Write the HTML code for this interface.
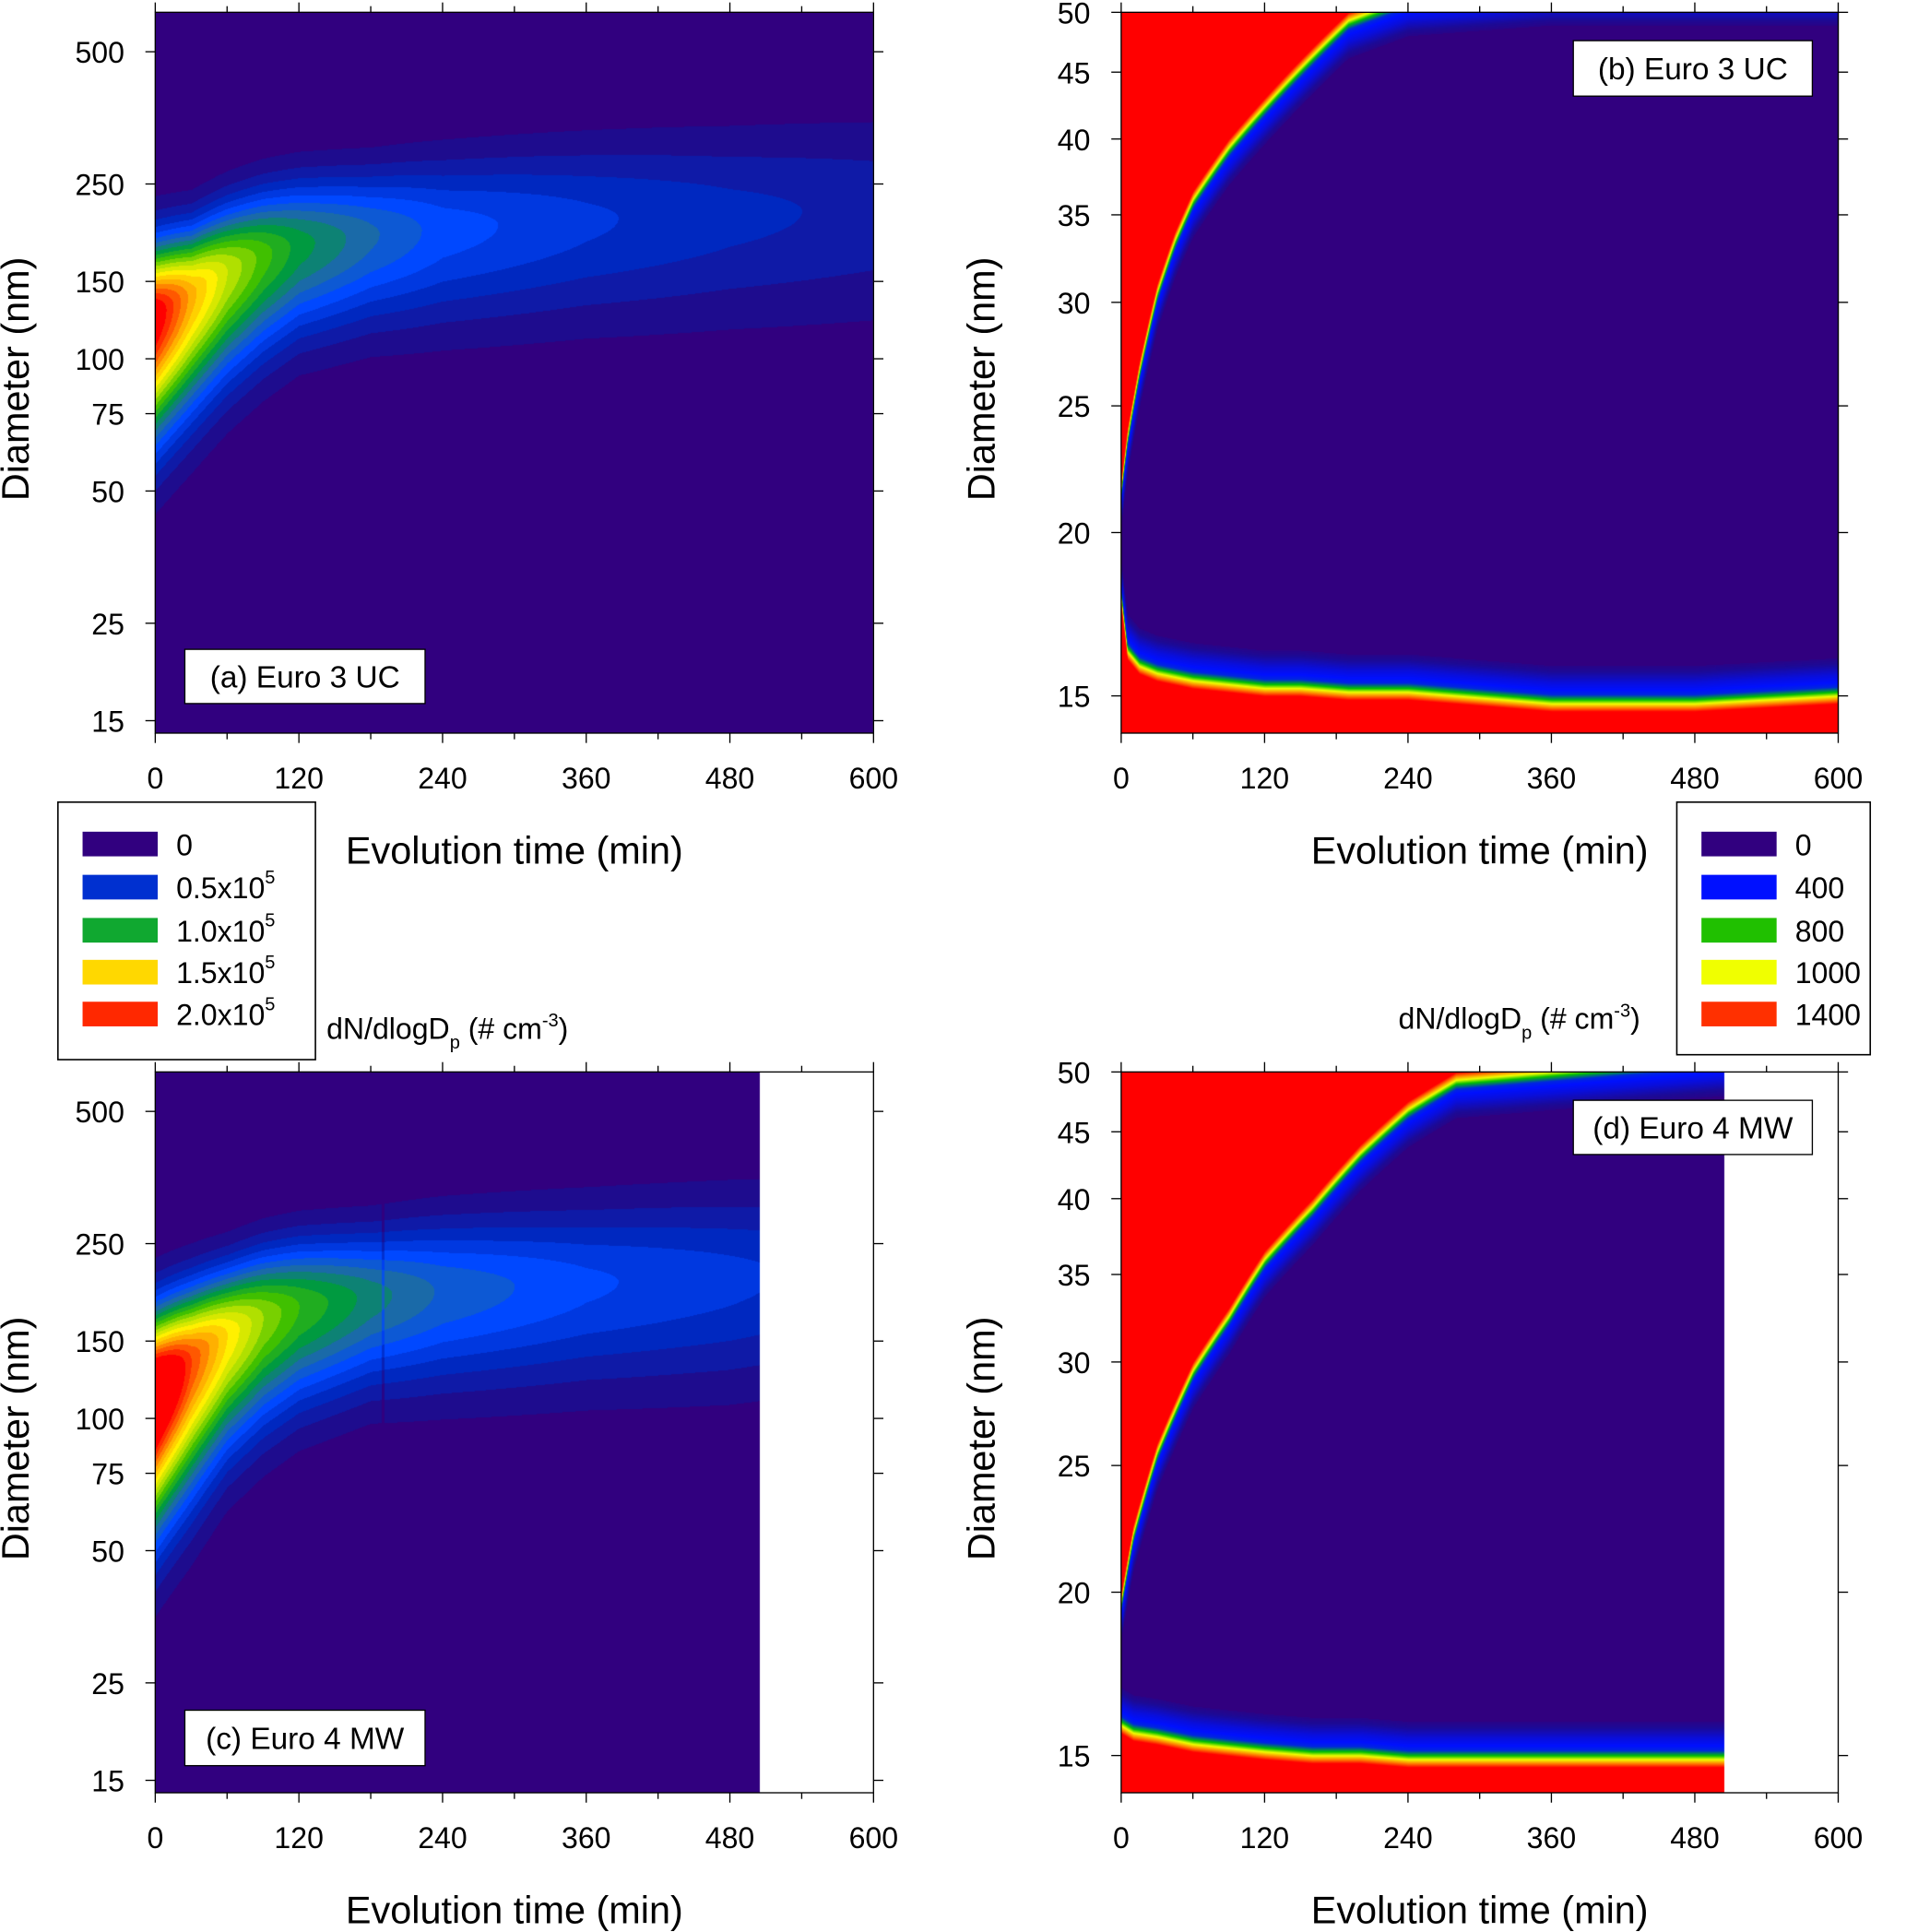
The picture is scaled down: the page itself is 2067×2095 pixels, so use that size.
<!DOCTYPE html>
<html><head><meta charset="utf-8">
<style>
html,body{margin:0;padding:0;background:#fff;}
#wrap{position:relative;width:2067px;height:2095px;overflow:hidden;}
canvas,svg{position:absolute;left:0;top:0;}
text{font-family:"Liberation Sans",Arial,sans-serif;fill:#000;}
</style></head>
<body>
<div id="wrap">
<canvas id="cv" width="2067" height="2095"></canvas>
<svg id="sv" width="2067" height="2095" viewBox="0 0 1547 1568"></svg>
</div>
<script>
// ---------- data ----------
const timesA = [0, 30, 60, 90, 120, 180, 240, 360, 480, 600];
const modeA  = [125, 140, 158, 172, 182, 192, 198, 208, 214, 220];
const peakA  = [2.25e5, 1.75e5, 1.4e5, 1.15e5, 0.95e5, 0.72e5, 0.55e5, 0.42e5, 0.33e5, 0.27e5];
const sigUpA = [0.11, 0.1, 0.1, 0.1, 0.1, 0.1, 0.11, 0.12, 0.13, 0.14];
const sigLoA = [0.18, 0.17, 0.16, 0.15, 0.14, 0.14, 0.15, 0.16, 0.17, 0.18];
const timesC = [0, 30, 60, 90, 120, 180, 240, 360, 480, 505];
const modeC  = [115, 135, 155, 170, 180, 190, 196, 204, 210, 212];
const peakC  = [2.6e5, 2.0e5, 1.6e5, 1.3e5, 1.1e5, 0.85e5, 0.68e5, 0.52e5, 0.43e5, 0.41e5];
const sigUpC = [0.12, 0.11, 0.1, 0.1, 0.1, 0.1, 0.11, 0.12, 0.13, 0.13];
const sigLoC = [0.2, 0.19, 0.17, 0.16, 0.15, 0.14, 0.15, 0.16, 0.17, 0.17];
const timesB  = [0, 5, 15, 30, 45, 60, 90, 120, 150, 190, 240, 360, 480, 600];
const upperB  = [22, 24, 27, 31, 34, 36.5, 40, 43, 46, 50, 52, 53, 53, 53];
const lowerB  = [17.5, 16, 15.6, 15.4, 15.3, 15.2, 15.1, 15.0, 15.0, 14.9, 14.9, 14.6, 14.6, 14.8];
const timesD  = [0, 10, 30, 60, 90, 120, 160, 200, 240, 280, 505];
const upperD  = [20, 22.5, 26, 30, 33, 36.5, 40, 44, 47.5, 50, 52];
const lowerD  = [15.6, 15.4, 15.3, 15.1, 15.0, 14.9, 14.8, 14.8, 14.7, 14.7, 14.7];
const xTicks = [0, 120, 240, 360, 480, 600];
const yTicksA = [15, 25, 50, 75, 100, 150, 250, 500];
const yTicksB = [15, 20, 25, 30, 35, 40, 45, 50];
const legA = ["0", "0.5x10", "1.0x10", "1.5x10", "2.0x10"];
const legB = ["0", "400", "800", "1000", "1400"];

function interp(xs, ys, t){
  if(t<=xs[0]) return ys[0];
  for(let i=1;i<xs.length;i++){ if(t<=xs[i]){const f=(t-xs[i-1])/(xs[i]-xs[i-1]);return ys[i-1]+f*(ys[i]-ys[i-1]);} }
  return ys[ys.length-1];
}
function hex(c){return [parseInt(c.substr(1,2),16),parseInt(c.substr(3,2),16),parseInt(c.substr(5,2),16)];}
function colorRamp(stops, v){
  if(v<=stops[0][0]) return hex(stops[0][1]);
  for(let i=1;i<stops.length;i++){ if(v<=stops[i][0]){const a=hex(stops[i-1][1]),b=hex(stops[i][1]);const f=(v-stops[i-1][0])/(stops[i][0]-stops[i-1][0]);return [0,1,2].map(k=>Math.round(a[k]+f*(b[k]-a[k])));} }
  return hex(stops[stops.length-1][1]);
}
const stopsA=[[0,'#31007f'],[0.1,'#1e0c8e'],[0.3,'#0028c0'],[0.5,'#0048ff'],[0.7,'#1a6aa8'],[0.9,'#009a40'],[1.1,'#40c000'],[1.3,'#b0e000'],[1.5,'#fff000'],[1.7,'#ffb000'],[1.9,'#ff5800'],[2.1,'#ff0000']];
const stopsB=[[0,'#31007f'],[150,'#1c0a96'],[400,'#0010ff'],[800,'#00c000'],[1000,'#f0ff00'],[1200,'#ff8000'],[1400,'#ff0000']];
// edge transition profile (decades from boundary -> value)
const edgeDist=[0,0.003,0.006,0.009,0.013,0.022,0.035];
const edgeVal =[1400,1200,1000,800,450,320,60];

const S=2067/1547;
const P={a:{x0:126,x1:709,y0:10,y1:595},b:{x0:910,x1:1492,y0:10,y1:595},c:{x0:126,x1:709,y0:870,y1:1455},d:{x0:910,x1:1492,y0:870,y1:1455}};
function yLogA(p,v){return p.y0+32+(Math.log10(500)-Math.log10(v))*356.5;}
function yLogB(p,v){return p.y0+(Math.log10(50)-Math.log10(v))*1061;}
function invA(p,y){return Math.pow(10,Math.log10(500)-(y-p.y0-32)/356.5);}
function invB(p,y){return Math.pow(10,Math.log10(50)-(y-p.y0)/1061);}
function xS(p,t){return p.x0+(t/600)*(p.x1-p.x0);}

const cv=document.getElementById('cv');const ctx=cv.getContext('2d');
const img=ctx.createImageData(2067,2095);const D=img.data;
function paint(p,tmax,fn){
  const X0=Math.round(p.x0*S),X1=Math.round(xS(p,tmax)*S),Y0=Math.round(p.y0*S),Y1=Math.round(p.y1*S);
  for(let X=X0;X<X1;X++){
    const t=((X/S)-p.x0)/(p.x1-p.x0)*600;
    for(let Y=Y0;Y<Y1;Y++){
      const c=fn(t,Y/S);const i=(Y*2067+X)*4;D[i]=c[0];D[i+1]=c[1];D[i+2]=c[2];D[i+3]=255;
    }
  }
}
function gaussFn(p,ts,md,pk,su,sl,line){
  return (t,y)=>{
    const dd=invA(p,y);const m=interp(ts,md,t),k=interp(ts,pk,t);
    const g=Math.log10(dd)-Math.log10(m);
    const s=g>0?interp(ts,su,t):interp(ts,sl,t);
    const z=g/s;
    let v=k*Math.exp(-0.5*z*z)/1e5;
    let lvl=Math.floor(v*10)/10;
    if(line && Math.abs(t-line)<1.2 && dd>65 && dd<420) lvl=Math.max(0,lvl-0.15);
    return colorRamp(stopsA,lvl);
  };
}
function edgeFn(p,ts,up,lo){
  return (t,y)=>{
    const dd=invB(p,y);const u=Math.log10(interp(ts,up,t)),l=Math.log10(interp(ts,lo,t));const g=Math.log10(dd);
    const dist=Math.min(u-g,g-l);
    let v;
    if(dist<=0) v=1400; else if(dist>=0.035) v=0; else v=interp(edgeDist,edgeVal,dist);
    return colorRamp(stopsB,v);
  };
}
paint(P.a,600,gaussFn(P.a,timesA,modeA,peakA,sigUpA,sigLoA,0));
paint(P.b,600,edgeFn(P.b,timesB,upperB,lowerB));
paint(P.c,505,gaussFn(P.c,timesC,modeC,peakC,sigUpC,sigLoC,190));
paint(P.d,505,edgeFn(P.d,timesD,upperD,lowerD));
ctx.putImageData(img,0,0);

const sv=document.getElementById('sv');const NS='http://www.w3.org/2000/svg';
function el(tag,attrs,txt){const e=document.createElementNS(NS,tag);for(const k in attrs)e.setAttribute(k,attrs[k]);if(txt!==undefined)e.textContent=txt;sv.appendChild(e);return e;}
function axes(key,p,ticks,yf){
  const fr=el('rect',{x:p.x0,y:p.y0,width:p.x1-p.x0,height:p.y1-p.y0,fill:'none',stroke:'#000','stroke-width':1});
  
  
  for(let t=0;t<=600;t+=60){
    const x=xS(p,t);const major=t%120===0;const L=major?8:5;
    el('line',{x1:x,x2:x,y1:p.y1,y2:p.y1+L,stroke:'#000'});
    el('line',{x1:x,x2:x,y1:p.y0,y2:p.y0-L,stroke:'#000'});
  }
  xTicks.forEach(t=>{
    const tx=el('text',{x:xS(p,t),y:p.y1+45,'font-size':24,'text-anchor':'middle'},String(t));
    
    
  });
  ticks.forEach(v=>{
    const y=yf(p,v);
    el('line',{x1:p.x0-8,x2:p.x0,y1:y,y2:y,stroke:'#000'});
    el('line',{x1:p.x1,x2:p.x1+8,y1:y,y2:y,stroke:'#000'});
    const tx=el('text',{x:p.x0-25,y:y+9,'font-size':24,'text-anchor':'end'},String(v));
    
    
  });
  const xt=el('text',{x:(p.x0+p.x1)/2,y:p.y1+106,'font-size':31,'text-anchor':'middle'},'Evolution time (min)');
  
  
  const cy=(p.y0+p.y1)/2+5;const yx=p.x0-103;
  const yt=el('text',{x:yx,y:cy,'font-size':31,'text-anchor':'middle',transform:'rotate(-90 '+yx+' '+cy+')'},'Diameter (nm)');
  
  
}
axes('a',P.a,yTicksA,yLogA);axes('b',P.b,yTicksB,yLogB);axes('c',P.c,yTicksA,yLogA);axes('d',P.d,yTicksB,yLogB);
function panelLabel(name,x,y,w,h,txt){
  const r=el('rect',{x:x,y:y,width:w,height:h,fill:'#fff',stroke:'#000','stroke-width':1});
  
  
  el('text',{x:x+w/2,y:y+h/2+9,'font-size':25,'text-anchor':'middle'},txt);
}
panelLabel('panel-label-a',150,527,195,44,'(a) Euro 3 UC');
panelLabel('panel-label-b',1277,33,194,45,'(b) Euro 3 UC');
panelLabel('panel-label-c',150,1388,195,45,'(c) Euro 4 MW');
panelLabel('panel-label-d',1277,893,194,44,'(d) Euro 4 MW');
function legend(name,x,y,w,h,swx,tx,labels,cols,sup){
  const r=el('rect',{x:x,y:y,width:w,height:h,fill:'#fff',stroke:'#000','stroke-width':1.2});
  
  
  const ys=[685,720,755,789,823];
  labels.forEach((l,i)=>{
    const s=el('rect',{x:swx,y:ys[i]-10,width:61,height:20,fill:cols[i]});
    
    
    const t=el('text',{x:tx,y:ys[i]+9,'font-size':24},l);
    
    
    if(sup&&i>0){const s2=document.createElementNS(NS,'tspan');s2.setAttribute('font-size',15);s2.setAttribute('dy',-12);s2.textContent='5';t.appendChild(s2);}
  });
}
legend('legend-a',47,651,209,209,67,143,legA,['#31007f','#0030d0','#10a830','#ffd800','#ff2800'],true);
legend('legend-b',1361,651,157,205,1381,1457,legB,['#31007f','#0010ff','#20c000','#f0ff00','#ff3000'],false);
function unitLabel(x,y){
  const t=el('text',{x:x,y:y,'font-size':24},'dN/dlogD');
  
  
  const a=document.createElementNS(NS,'tspan');a.setAttribute('font-size',15);a.setAttribute('dy',8);a.textContent='p';t.appendChild(a);
  const b=document.createElementNS(NS,'tspan');b.setAttribute('dy',-8);b.textContent=' (# cm';t.appendChild(b);
  const c=document.createElementNS(NS,'tspan');c.setAttribute('font-size',15);c.setAttribute('dy',-10);c.textContent='-3';t.appendChild(c);
  const d=document.createElementNS(NS,'tspan');d.setAttribute('dy',10);d.textContent=')';t.appendChild(d);
}
unitLabel(265,843);unitLabel(1135,835);
</script>
</body></html>
